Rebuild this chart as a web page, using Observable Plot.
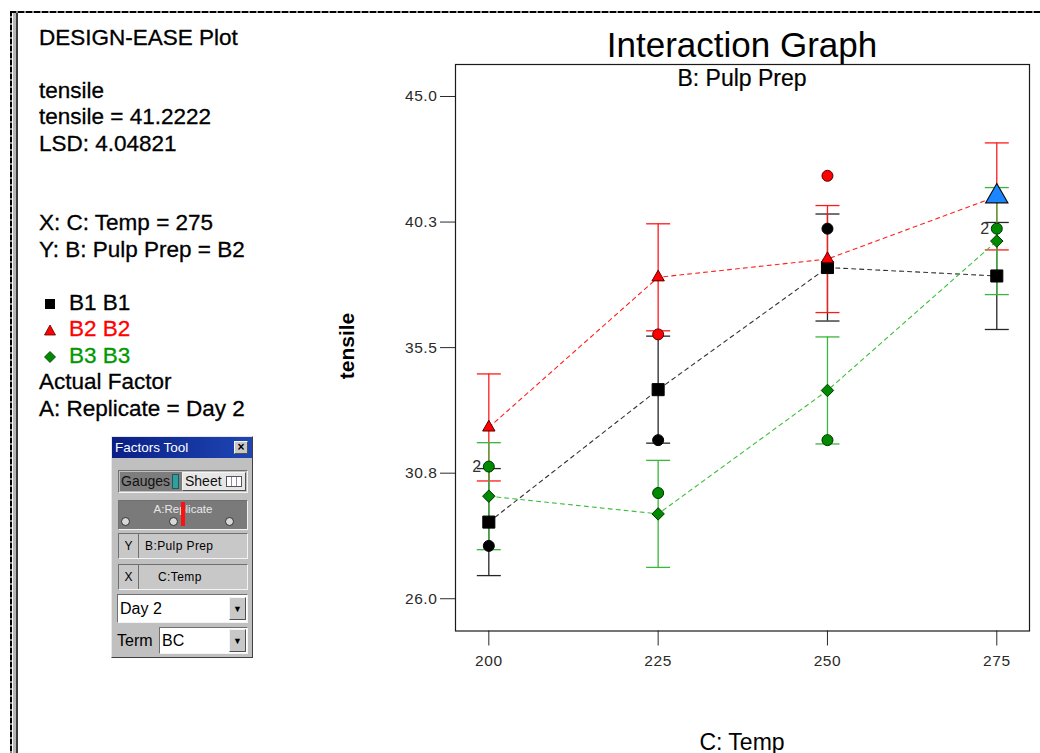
<!DOCTYPE html>
<html>
<head>
<meta charset="utf-8">
<script src="https://cdn.jsdelivr.net/npm/d3@7"></script>
<script src="https://cdn.jsdelivr.net/npm/@observablehq/plot@0.6"></script>
<style>
  html, body { margin: 0; padding: 0; background: #fff; }
  #page { position: relative; width: 1040px; height: 753px; overflow: hidden; background: #fff;
          font-family: "Liberation Sans", Arial, sans-serif; color: #000; }
  #page > svg { position: absolute; left: 0; top: 0; }
  .abs { position: absolute; white-space: nowrap; }
  .info { position: absolute; left: 39px; font-size: 22.5px; line-height: 26.5px; height: 26.5px; white-space: nowrap;
          -webkit-text-stroke: 0.3px currentColor; }
  .ft { position: absolute; left: 111px; top: 436px; width: 142px; height: 222px; background: #c0c0c0;
        border-top: 1px solid #e8e8e8; border-left: 1px solid #e8e8e8; border-right: 1px solid #404040; border-bottom: 1px solid #404040;
        box-sizing: border-box; font-family: "Liberation Sans", Arial, sans-serif; }
  .ft div { position: absolute; box-sizing: border-box; white-space: nowrap; }
  .inset { border-top: 1px solid #707070; border-left: 1px solid #707070; border-right: 1px solid #f4f4f4; border-bottom: 1px solid #f4f4f4; }
  .outset { border-top: 1px solid #f4f4f4; border-left: 1px solid #f4f4f4; border-right: 1px solid #505050; border-bottom: 1px solid #505050; }
</style>
</head>
<body>
<div id="page"></div>
<script>
// ---------------- data ----------------
const temps = [200, 225, 250, 275];
const seriesKeys = ["B1", "B2", "B3"];
const b1Means = [28.90, 33.91, 38.53, 38.21];
const b2Means = [32.48, 38.16, 38.85, 41.22];
const b3Means = [29.88, 29.21, 33.88, 39.53];
const lsd = 4.04821;
const currentValue = 41.2222;
const currentTemp = 275;
const currentSeries = "B2";

const pointTemps  = [200, 200, 225, 225, 225, 250, 250, 250, 275];
const pointSeries = ["B1", "B3", "B1", "B2", "B3", "B1", "B2", "B3", "B3"];
const pointValues = [28, 31, 32, 36, 30, 40, 42, 32, 40];

const countTemps  = [200, 275];
const countValues = [31, 40];
const countLabels = ["2", "2"];

const xTicks = [200, 225, 250, 275];
const yTicks = [26, 30.75, 35.5, 40.25, 45];
const yTickLabels = ["26.0", "30.8", "35.5", "40.3", "45.0"];

// ---------------- styles ----------------
const styles = {
  B1: {marker: "#000000", outline: "#000000", bar: "#262626", line: "#333333", symbol: "square", r: 6.8, text: "#000000"},
  B2: {marker: "#ff0000", outline: "#5a0000", bar: "#ff1a1a", line: "#ff2020", symbol: "triangle", r: 4.6, text: "#ff0000"},
  B3: {marker: "#008a00", outline: "#003300", bar: "#3cb53c", line: "#3cbf3c", symbol: "diamond2", r: 5.6, text: "#009900"}
};

const meansList = [b1Means, b2Means, b3Means];
const meanRows = seriesKeys.flatMap((k, i) => meansList[i].map((v, j) => ({series: k, temp: temps[j], value: v})));
const pointRows = pointTemps.map((t, i) => ({series: pointSeries[i], temp: t, value: pointValues[i]}));
const countRows = countTemps.map((t, i) => ({temp: t, value: countValues[i], label: countLabels[i]}));
const half = lsd / 2;

const capSymbol = {
  draw(context, size) {
    const r = Math.sqrt(size / Math.PI);
    context.moveTo(-r, 0);
    context.lineTo(r, 0);
  }
};

const isCurrent = d => d.series === currentSeries && d.temp === currentTemp;

const marks = [Plot.frame({stroke: "#1a1a1a", strokeWidth: 1.2})];
// error bars (LSD)
for (const k of seriesKeys) {
  const rows = meanRows.filter(d => d.series === k);
  const s = styles[k];
  marks.push(Plot.ruleX(rows, {x: "temp", y1: d => d.value - half, y2: d => d.value + half, stroke: s.bar, strokeWidth: 1.3}));
  marks.push(Plot.dot(rows, {x: "temp", y: d => d.value - half, symbol: capSymbol, r: 12, stroke: s.bar, fill: "none", strokeWidth: 1.3}));
  marks.push(Plot.dot(rows, {x: "temp", y: d => d.value + half, symbol: capSymbol, r: 12, stroke: s.bar, fill: "none", strokeWidth: 1.3}));
}
// dashed interaction lines
for (const k of seriesKeys) {
  const rows = meanRows.filter(d => d.series === k);
  marks.push(Plot.line(rows, {x: "temp", y: "value", stroke: styles[k].line, strokeWidth: 1.1, strokeDasharray: "4,4"}));
}
// design points
for (const k of seriesKeys) {
  const rows = pointRows.filter(d => d.series === k);
  marks.push(Plot.dot(rows, {x: "temp", y: "value", r: 5.5, fill: styles[k].marker, stroke: styles[k].outline, strokeWidth: 1}));
}
// means
for (const k of seriesKeys) {
  const rows = meanRows.filter(d => d.series === k && !isCurrent(d));
  const s = styles[k];
  marks.push(Plot.dot(rows, {x: "temp", y: "value", symbol: s.symbol, r: s.r, fill: s.marker, stroke: s.outline, strokeWidth: 1}));
}
marks.push(Plot.dot(meanRows.filter(isCurrent), {x: "temp", y: "value", symbol: "triangle", r: 8.3, fill: "#1a86ff", stroke: "#0a0a0a", strokeWidth: 1.1}));
marks.push(Plot.text(countRows, {x: "temp", y: "value", text: "label", dx: -7, textAnchor: "end", fontSize: 16, fill: "#333"}));

const chart = Plot.plot({
  width: 1040,
  height: 753,
  marginLeft: 455,
  marginRight: 11,
  marginTop: 64,
  marginBottom: 122.5,
  style: {fontFamily: "Liberation Sans, Arial, sans-serif", fontSize: "15.5px", color: "#2a2a2a", background: "transparent", letterSpacing: "0.6px"},
  x: {domain: [195.08, 279.83], ticks: xTicks, tickSize: 15, tickPadding: 9, tickFormat: d => String(d), label: null},
  y: {domain: [24.78, 46.21], ticks: yTicks, tickSize: 15, tickPadding: 3, tickFormat: d => yTickLabels[yTicks.indexOf(d)], label: null},
  marks
});

const page = document.getElementById("page");
page.appendChild(chart);

// ---------------- page decorations & text ----------------
function add(html) { page.insertAdjacentHTML("beforeend", html); }

// window border
add(`<div class="abs" style="left:10px;top:11px;width:1030px;height:2px;background:repeating-linear-gradient(to right,#000 0 6px,#8a8a8a 6px 8px);"></div>`);
add(`<div class="abs" style="left:10px;top:11px;width:2px;height:742px;background:repeating-linear-gradient(to bottom,#000 0 5px,#8a8a8a 5px 7px);"></div>`);
add(`<div class="abs" style="left:13px;top:13px;width:3px;height:740px;background:#b8b8b8;"></div>`);
add(`<div class="abs" style="left:16px;top:13px;width:1.5px;height:740px;background:#3a3a3a;"></div>`);

// titles
add(`<div class="abs" style="left:542px;width:400px;text-align:center;top:27px;font-size:35px;line-height:35px;">Interaction Graph</div>`);
add(`<div class="abs" style="left:542px;width:400px;text-align:center;top:66.5px;font-size:23px;line-height:23px;-webkit-text-stroke:0.2px #000;">B: Pulp Prep</div>`);
add(`<div class="abs" style="left:542px;width:400px;text-align:center;top:730.5px;font-size:23px;line-height:23px;">C: Temp</div>`);
add(`<div class="abs" style="left:346px;top:346px;font-size:21px;line-height:21px;font-weight:bold;transform:translate(-50%,-50%) rotate(-90deg);">tensile</div>`);

// info panel
const lineH = 26.5, top0 = 24.75;
const infoLines = [
  [0, "DESIGN-EASE Plot"],
  [2, "tensile"],
  [3, `tensile = ${currentValue}`],
  [4, `LSD: ${lsd}`],
  [7, `X: C: Temp = ${currentTemp}`],
  [8, `Y: B: Pulp Prep = ${currentSeries}`],
  [13, "Actual Factor"],
  [14, "A: Replicate = Day 2"]
];
for (const [i, t] of infoLines) add(`<div class="info" style="top:${top0 + i * lineH}px;">${t}</div>`);

const legendShapes = {
  B1: `<rect x="1" y="1" width="10" height="10" fill="#000"/>`,
  B2: `<path d="M6 1 L11.5 11 L0.5 11 Z" fill="#ff0000" stroke="#5a0000" stroke-width="0.8"/>`,
  B3: `<path d="M6 0.5 L11.5 6 L6 11.5 L0.5 6 Z" fill="#008a00" stroke="#003300" stroke-width="0.8"/>`
};
seriesKeys.forEach((k, j) => {
  const top = top0 + (10 + j) * lineH;
  add(`<svg class="abs" width="12" height="12" style="left:44px;top:${top + 8}px;">${legendShapes[k]}</svg>`);
  add(`<div class="info" style="left:69px;top:${top}px;color:${styles[k].text};">${k} ${k}</div>`);
});

// Factors Tool widget
add(`<div class="ft">
  <div style="left:0;top:0;width:140px;height:21px;background:linear-gradient(90deg,#0a1f86,#1e46b4);color:#fff;font-size:13.5px;line-height:21px;padding-left:3px;">Factors Tool</div>
  <div class="outset" style="left:122px;top:4px;width:14px;height:13px;background:#c8c8c8;font-size:12px;line-height:11px;text-align:center;font-weight:bold;">×</div>

  <div class="inset" style="left:6px;top:33px;width:130px;height:23px;background:#c0c0c0;"></div>
  <div style="left:8px;top:35px;width:62px;height:19px;background:#7d7d7d;font-size:14px;line-height:19px;padding-left:1px;color:#111;">Gauges</div>
  <div style="left:60px;top:37px;width:7px;height:15px;background:#2f9f9f;border:1px solid #1b5b5b;"></div>
  <div class="outset" style="left:70px;top:35px;width:64px;height:19px;background:#e6e6e6;font-size:14px;line-height:17px;padding-left:2px;color:#111;">Sheet</div>
  <div style="left:114px;top:39px;width:16px;height:11px;border:1px solid #555;background:repeating-linear-gradient(90deg,#fff 0 4px,#8a8ab0 4px 5px);"></div>

  <div class="inset" style="left:6px;top:63px;width:130px;height:30px;background:#7a7a7a;"></div>
  <div style="left:6px;top:66px;width:130px;text-align:center;font-size:11.5px;color:#e8e8e8;">A:Replicate</div>
  <div style="left:69px;top:65px;width:4px;height:24px;background:#ff1010;"></div>
  <div style="left:9px;top:80px;width:9px;height:9px;border-radius:50%;background:#d8d8d8;border:1.5px solid #303030;"></div>
  <div style="left:57px;top:80px;width:9px;height:9px;border-radius:50%;background:#d8d8d8;border:1.5px solid #303030;"></div>
  <div style="left:113px;top:80px;width:9px;height:9px;border-radius:50%;background:#d8d8d8;border:1.5px solid #303030;"></div>

  <div class="inset" style="left:6px;top:96px;width:130px;height:26px;background:#c8c8c8;"></div>
  <div style="left:7px;top:97px;width:20px;height:24px;border-right:1px solid #707070;font-size:12px;line-height:24px;text-align:center;">Y</div>
  <div style="left:33px;top:97px;font-size:12px;line-height:24px;letter-spacing:0.4px;">B:Pulp Prep</div>

  <div class="inset" style="left:6px;top:127px;width:130px;height:26px;background:#c8c8c8;"></div>
  <div style="left:7px;top:128px;width:20px;height:24px;border-right:1px solid #707070;font-size:12px;line-height:24px;text-align:center;">X</div>
  <div style="left:46px;top:128px;font-size:12px;line-height:24px;letter-spacing:0.4px;">C:Temp</div>

  <div class="inset" style="left:5px;top:157px;width:131px;height:29px;background:#fff;"></div>
  <div style="left:8px;top:157px;font-size:16px;line-height:29px;">Day 2</div>
  <div class="outset" style="left:117px;top:160px;width:17px;height:23px;background:#c8c8c8;font-size:9px;line-height:23px;text-align:center;">▼</div>

  <div style="left:5px;top:190px;font-size:16px;line-height:27px;">Term</div>
  <div class="inset" style="left:47px;top:190px;width:89px;height:27px;background:#fff;"></div>
  <div style="left:50px;top:190px;font-size:16px;line-height:27px;">BC</div>
  <div class="outset" style="left:117px;top:192px;width:17px;height:23px;background:#c8c8c8;font-size:9px;line-height:23px;text-align:center;">▼</div>
</div>`);
</script>
</body>
</html>
